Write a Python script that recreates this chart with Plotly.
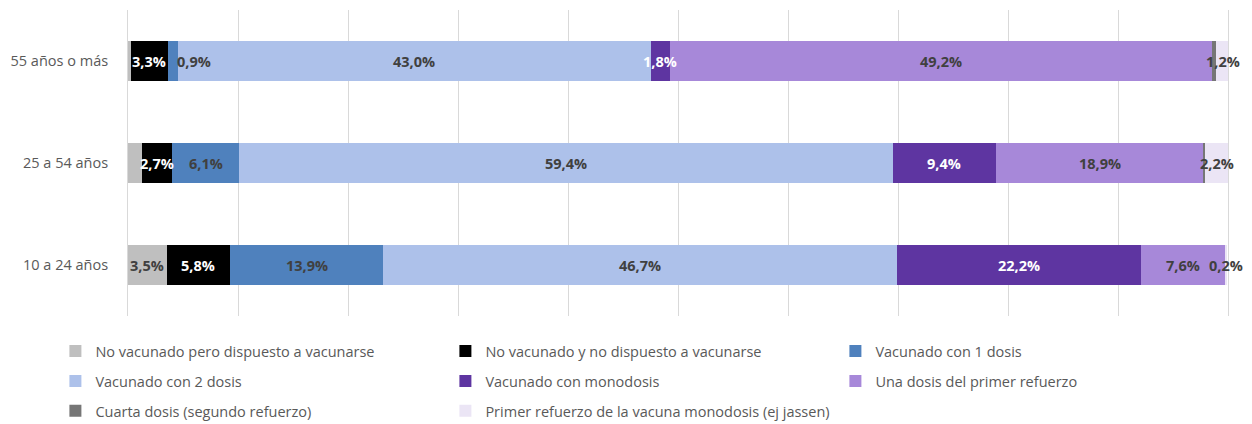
import plotly.graph_objects as go

# grupos de edad (de abajo hacia arriba, como los dibuja plotly)
categorias = ["10 a 24 años", "25 a 54 años", "55 años o más"]

series = [
    "No vacunado pero dispuesto a vacunarse",
    "No vacunado y no dispuesto a vacunarse",
    "Vacunado con 1 dosis",
    "Vacunado con 2 dosis",
    "Vacunado con monodosis",
    "Una dosis del primer refuerzo",
    "Cuarta dosis (segundo refuerzo)",
    "Primer refuerzo de la vacuna monodosis (ej jassen)",
]

# porcentajes por serie, en el orden de categorias
no_vac_dispuesto = [3.5, 1.3, 0.3]
no_vac_no_dispuesto = [5.8, 2.7, 3.3]
una_dosis = [13.9, 6.1, 0.9]
dos_dosis = [46.7, 59.4, 43.0]
monodosis = [22.2, 9.4, 1.8]
primer_refuerzo = [7.6, 18.9, 49.2]
cuarta_dosis = [0.0, 0.1, 0.4]
refuerzo_monodosis = [0.2, 2.2, 1.2]

valores = [no_vac_dispuesto, no_vac_no_dispuesto, una_dosis, dos_dosis,
           monodosis, primer_refuerzo, cuarta_dosis, refuerzo_monodosis]

# etiquetas que no aparecen en el gráfico original
ocultas = {(0, 1), (0, 2), (6, 0), (6, 1), (6, 2)}

colores = ["#BFBFBF", "#000000", "#4F81BD", "#ADC1EA",
           "#5E35A1", "#A788D9", "#767676", "#EBE5F5"]
texto_color = ["#404040", "#FFFFFF", "#404040", "#404040",
               "#FFFFFF", "#404040", "#404040", "#404040"]

FONT = "Open Sans"
GRIS = "#595959"

fig = go.Figure()
# tres filas de leyenda, tres columnas cada una
filas_legend = ["legend", "legend", "legend", "legend2", "legend2", "legend2", "legend3", "legend3"]

for i, (nombre, vals) in enumerate(zip(series, valores)):
    fig.add_trace(go.Bar(
        y=categorias, x=[v / 100 for v in vals], name=nombre, orientation="h",
        marker=dict(color=colores[i], line=dict(width=0)),
        width=0.4, legend=filas_legend[i], hoverinfo="x+name",
    ))

# etiquetas de datos centradas en cada segmento
acum = [0.0] * len(categorias)
for i, vals in enumerate(valores):
    for j, v in enumerate(vals):
        centro = (acum[j] + v / 2) / 100
        acum[j] += v
        if (i, j) in ocultas:
            continue
        shift = 21 if (i == 2 and j == 2) else 0
        fig.add_annotation(
            x=centro, y=categorias[j], text="<b>" + f"{v:.1f}".replace(".", ",") + "%</b>",
            showarrow=False, xshift=shift,
            font=dict(family=FONT, size=14.5, color=texto_color[i]),
        )

legend_base = dict(orientation="h", xanchor="left", yanchor="top", x=-0.066,
                   entrywidth=345, entrywidthmode="pixels", itemwidth=30,
                   traceorder="normal",
                   font=dict(family=FONT, size=14.5, color=GRIS),
                   bgcolor="rgba(0,0,0,0)", itemclick=False)

# la página html añade 8px de margen al cuerpo, se compensa en los márgenes
fig.update_layout(
    barmode="stack", width=1252, height=424,
    margin=dict(l=120, r=32, t=2, b=116, autoexpand=False),
    plot_bgcolor="white", paper_bgcolor="white",
    font=dict(family=FONT, color=GRIS),
    xaxis=dict(range=[0, 1], dtick=0.1, showticklabels=False, showgrid=True,
               gridcolor="#D9D9D9", gridwidth=1, zeroline=False, fixedrange=True),
    yaxis=dict(categoryorder="array", categoryarray=categorias, showgrid=False,
               showline=True, linecolor="#D9D9D9", linewidth=1, mirror=True,
               ticks="", ticklabelstandoff=16, tickfont=dict(family=FONT, size=14.5, color=GRIS),
               range=[-0.5, 2.5], fixedrange=True),
    legend=dict(legend_base, y=-0.062),
    legend2=dict(legend_base, y=-0.160),
    legend3=dict(legend_base, y=-0.258),
    showlegend=True,
)

fig.write_html("out.html")
